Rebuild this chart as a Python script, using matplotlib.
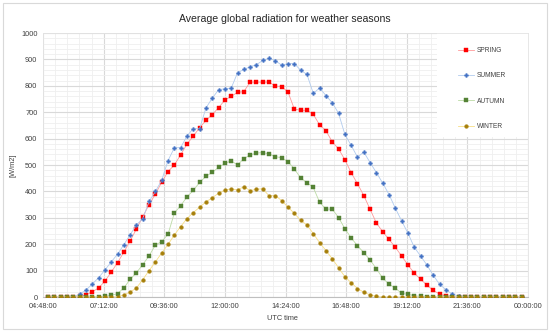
import numpy as np
import pandas as pd
import matplotlib
matplotlib.use('Agg')
import matplotlib.pyplot as plt
from matplotlib.patches import Rectangle
from matplotlib.ticker import MultipleLocator, FixedLocator

plt.rcParams['font.family'] = ['Liberation Sans', 'DejaVu Sans']

# 15 min values from 05:00 to 23:45 (UTC)
times = pd.date_range('2000-01-01 05:00', periods=76, freq='15min')

spring = [0, 0, 0, 0, 0, 2, 8, 20, 34, 60, 94, 130, 170, 212, 258, 304, 350, 390, 435, 475,
          500, 539, 579, 610, 641, 669, 691, 717, 746, 760, 775, 778, 814, 814, 814, 814, 799, 797, 776, 712,
          707, 707, 692, 652, 630, 588, 561, 520, 471, 429, 384, 332, 280, 247, 218, 188, 155, 121, 90, 67,
          45, 25, 11, 4, 1, 0, 0, 0, 0, 0, 0, 0, 0, 0, 0, 0]
summer = [0, 0, 0, 0, 0, 11, 26, 49, 73, 102, 133, 162, 198, 236, 273, 297, 362, 400, 442, 517,
          565, 566, 610, 638, 637, 716, 753, 785, 789, 791, 849, 862, 872, 880, 896, 905, 895, 878, 884, 884,
          859, 843, 771, 792, 763, 736, 696, 616, 574, 530, 549, 509, 471, 431, 388, 336, 288, 241, 188, 155,
          121, 82, 48, 28, 11, 4, 1, 0, 0, 0, 0, 0, 0, 0, 0, 0]
autumn = [0, 0, 0, 0, 0, 0, 0, 0, 1, 3, 6, 13, 34, 67, 92, 123, 156, 197, 210, 238,
          318, 346, 379, 404, 434, 457, 472, 491, 506, 516, 500, 524, 538, 545, 547, 542, 532, 527, 513, 485,
          451, 433, 415, 359, 333, 333, 301, 259, 224, 194, 168, 140, 107, 71, 49, 33, 14, 10, 5, 2,
          1, 0, 0, 0, 0, 0, 0, 0, 0, 0, 0, 0, 0, 0, 0, 0]
winter = [0, 0, 0, 0, 0, 0, 0, 0, 0, 0, 0, 1, 8, 19, 34, 66, 100, 133, 167, 199,
          235, 267, 297, 320, 340, 360, 376, 393, 405, 410, 405, 418, 403, 408, 410, 383, 384, 365, 340, 317,
          290, 273, 240, 206, 176, 145, 111, 77, 54, 32, 18, 8, 2, 0, 0, 0, 0, 0, 0, 0,
          0, 0, 0, 0, 0, 0, 0, 0, 0, 0, 0, 0, 0, 0, 0, 0]

tick_days = [0.2, 0.3, 0.4, 0.5, 0.6, 0.7, 0.8, 0.9, 1.0]
tick_labels = ['04:48:00', '07:12:00', '09:36:00', '12:00:00', '14:24:00',
               '16:48:00', '19:12:00', '21:36:00', '00:00:00']

# time of day as fraction of a day (like the spreadsheet axis)
x = (times.hour * 60 + times.minute) / 1440.0

fig = plt.figure(figsize=(5.5, 3.32), dpi=100)
fig.patches.append(Rectangle((3 / 550, 3 / 332), 544 / 550, 326 / 332, transform=fig.transFigure,
                             fill=False, edgecolor='#d9d9d9', linewidth=0.8))
ax = fig.add_axes([43 / 550, 35 / 332, 485 / 550, 264 / 332])

series = [
    ('SPRING', spring, '#ff0000', '#ff9a9a', 's', 2.2),
    ('SUMMER', summer, '#4472c4', '#b1cbee', 'P', 2.8),
    ('AUTUMN', autumn, '#548235', '#bcdba5', 's', 2.2),
    ('WINTER', winter, '#a67f0a', '#f7de86', '8', 2.8),
]
for name, vals, mc, lc, mk, ms in series:
    ax.plot(x, vals, color=lc, lw=0.6, marker=mk, markersize=ms,
            markerfacecolor=mc, markeredgecolor=mc, markeredgewidth=0.3, label=name, zorder=3)

ax.set_xlim(0.2, 1.0)
ax.set_ylim(0, 1000)
ax.xaxis.set_major_locator(FixedLocator(tick_days))
ax.set_xticklabels(tick_labels)
ax.xaxis.set_minor_locator(MultipleLocator(0.02))
ax.yaxis.set_major_locator(MultipleLocator(100))
ax.yaxis.set_minor_locator(MultipleLocator(20))
ax.set_axisbelow(True)
ax.grid(which='major', color='#d9d9d9', lw=0.8)
ax.grid(which='minor', color='#efefef', lw=0.6)
ax.tick_params(which='both', length=0, labelsize=5.3, labelcolor='#404040', pad=4)
for s in ax.spines.values():
    s.set_color('#e3e3e3')
    s.set_linewidth(0.6)
ax.spines['bottom'].set_color('#bfbfbf')
ax.spines['bottom'].set_linewidth(0.8)

# white legend area on the right
ax.add_patch(Rectangle(((437 - 43) / 485, 1 - (137 - 33) / 264), (528 - 437) / 485, (137 - 33) / 264,
                       transform=ax.transAxes, facecolor='white', edgecolor='none', zorder=1.5))
ax.legend(loc='upper left', bbox_to_anchor=((452 - 43) / 485, 1 - (41 - 33) / 264), frameon=False,
          fontsize=4.8, labelspacing=2.75, handlelength=2.4, handletextpad=0.4, labelcolor='#404040')

fig.text(285 / 550, 1 - 19 / 332, 'Average global radiation for weather seasons',
         ha='center', va='center', fontsize=7.6, color='#262626')
fig.text(282 / 550, 1 - 318 / 332, 'UTC time', ha='center', va='center', fontsize=5.3, color='#404040')
fig.text(13 / 550, 1 - 165 / 332, '[W/m2]', ha='center', va='center', rotation=90,
         fontsize=5.3, color='#404040')

fig.savefig('out.png', dpi=100)
